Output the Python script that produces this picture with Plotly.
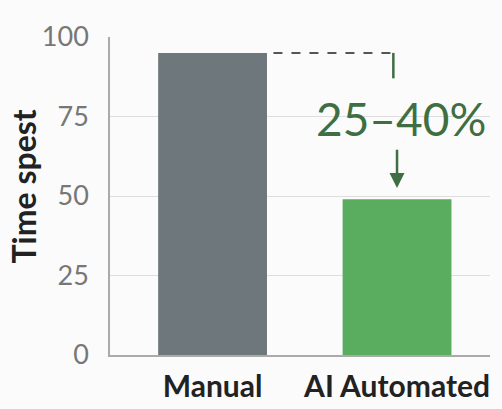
import plotly.graph_objects as go

categories = ["Manual", "AI Automated"]
time_spent = [95, 49]
bar_colors = ["#6e777c", "#5aad5f"]
y_ticks = [0, 25, 50, 75, 100]
saving_label = "25–40%"
y_title = "Time spest"

fig = go.Figure()
fig.add_trace(go.Bar(
    x=[0, 1],
    y=time_spent,
    width=0.59,
    marker=dict(color=bar_colors, line=dict(width=0)),
    hoverinfo="skip",
))

# dashed reference from the manual bar's top, bending down toward the label
fig.add_shape(type="line", xref="x", yref="y", x0=0.33, x1=0.98,
              y0=time_spent[0], y1=time_spent[0],
              line=dict(color="#555555", width=2, dash="dash"))
fig.add_shape(type="line", xref="x", yref="y", x0=0.98, x1=0.98,
              y0=time_spent[0], y1=87,
              line=dict(color="#3f6e42", width=2.5))

fig.add_annotation(x=1.02, y=74.5, xref="x", yref="y", text=saving_label,
                   showarrow=False,
                   font=dict(family="Lato", size=46, color="#3f6e42"))
fig.add_annotation(x=1.0, y=52.5, ax=1.0, ay=65, xref="x", yref="y",
                   axref="x", ayref="y", text="", showarrow=True,
                   arrowhead=2, arrowsize=1.2, arrowwidth=2.5,
                   arrowcolor="#3f6e42")

# vertical axis title, placed slightly above the axis midpoint
fig.add_annotation(x=0, y=0.53, xref="paper", yref="paper",
                   xshift=-87, text=f"<b>{y_title}</b>", textangle=-90,
                   showarrow=False, xanchor="center", yanchor="middle",
                   font=dict(family="Lato", size=32, color="#222222"))

fig.update_layout(
    width=502, height=409,
    margin=dict(l=110, r=12, t=37, b=54, autoexpand=False),
    paper_bgcolor="#fbfbfb",
    plot_bgcolor="#fbfbfb",
    showlegend=False,
    font=dict(family="Lato"),
    xaxis=dict(
        range=[-0.556, 1.504], automargin=False,
        tickmode="array", tickvals=[0, 1],
        ticktext=[f"<b>{c}</b>" for c in categories],
        tickfont=dict(family="Lato", size=30, color="#222222"),
        showline=True, linecolor="#aaaaaa", linewidth=1.5,
        showgrid=False, zeroline=False, ticks="", ticklabelstandoff=4,
    ),
    yaxis=dict(
        range=[0, 100], automargin=False,
        tickmode="array", tickvals=y_ticks,
        tickfont=dict(family="Lato", size=27, color="#777777"),
        showline=True, linecolor="#aaaaaa", linewidth=1.5,
        showgrid=True, gridcolor="#dddddd", gridwidth=1,
        zeroline=False, ticks="", ticklabelstandoff=14,
    ),
)

fig.write_html("out.html")
